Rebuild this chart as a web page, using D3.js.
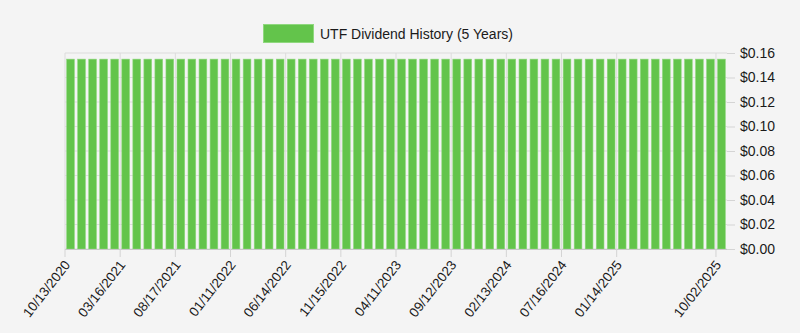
<!DOCTYPE html>
<html>
<head>
<meta charset="utf-8">
<script src="https://cdn.jsdelivr.net/npm/d3@7"></script>
<style>
  html, body { margin: 0; padding: 0; background: #f4f4f4; }
  svg { display: block; font-family: "Liberation Sans", Arial, Helvetica, sans-serif; }
</style>
</head>
<body>
<svg id="chart" width="800" height="333"></svg>
<script>
const exDates = [
  "10/13/2020","11/10/2020","12/08/2020",
  "01/12/2021","02/09/2021","03/16/2021","04/13/2021","05/11/2021","06/15/2021","07/13/2021","08/17/2021","09/14/2021","10/12/2021","11/09/2021","12/07/2021",
  "01/11/2022","02/08/2022","03/15/2022","04/12/2022","05/10/2022","06/14/2022","07/12/2022","08/16/2022","09/13/2022","10/11/2022","11/15/2022","12/06/2022",
  "01/10/2023","02/14/2023","03/14/2023","04/11/2023","05/16/2023","06/13/2023","07/11/2023","08/15/2023","09/12/2023","10/10/2023","11/14/2023","12/12/2023",
  "01/09/2024","02/13/2024","03/12/2024","04/09/2024","05/14/2024","06/11/2024","07/16/2024","08/13/2024","09/10/2024","10/15/2024","11/12/2024",
  "01/14/2025","02/11/2025","03/11/2025","04/15/2025","05/13/2025","06/10/2025","07/15/2025","08/12/2025","09/16/2025","10/02/2025"
];
const dividends = [
  0.155,0.155,0.155,
  0.155,0.155,0.155,0.155,0.155,0.155,0.155,0.155,0.155,0.155,0.155,0.155,
  0.155,0.155,0.155,0.155,0.155,0.155,0.155,0.155,0.155,0.155,0.155,0.155,
  0.155,0.155,0.155,0.155,0.155,0.155,0.155,0.155,0.155,0.155,0.155,0.155,
  0.155,0.155,0.155,0.155,0.155,0.155,0.155,0.155,0.155,0.155,0.155,
  0.155,0.155,0.155,0.155,0.155,0.155,0.155,0.155,0.155,0.155
];
const xTickLabels = ["10/13/2020","03/16/2021","08/17/2021","01/11/2022","06/14/2022","11/15/2022","04/11/2023","09/12/2023","02/13/2024","07/16/2024","01/14/2025","10/02/2025"];
const yTicks = [0,0.02,0.04,0.06,0.08,0.10,0.12,0.14,0.16];
const seriesName = "UTF Dividend History (5 Years)";

const data = exDates.map((d, i) => ({ date: d, value: dividends[i] }));

const svg = d3.select("#chart");
const mLeft = 65, mRight = 727, mTop = 53, mBottom = 249;

const x = d3.scaleBand().domain(exDates).range([mLeft, mRight]).paddingInner(0.3).paddingOuter(0.15);
const y = d3.scaleLinear().domain([0, 0.16]).range([mBottom, mTop]);
const gap = (x.step() - x.bandwidth()) / 2;
const boundary = d => x(d) - gap;

// horizontal grid
svg.append("g").selectAll("line").data(yTicks).join("line")
  .attr("x1", mLeft).attr("x2", mRight)
  .attr("y1", d => y(d)).attr("y2", d => y(d))
  .attr("stroke", "#dcdcdc").attr("stroke-width", 1);

// vertical grid
svg.append("g").selectAll("line").data(xTickLabels).join("line")
  .attr("x1", d => boundary(d)).attr("x2", d => boundary(d))
  .attr("y1", mTop).attr("y2", mBottom)
  .attr("stroke", "#dcdcdc").attr("stroke-width", 1);

// bars
svg.append("g").selectAll("rect").data(data).join("rect")
  .attr("x", d => x(d.date))
  .attr("y", d => y(d.value))
  .attr("width", x.bandwidth())
  .attr("height", d => y(0) - y(d.value))
  .attr("fill", "#63c44b")
  .attr("stroke", "#8fd87e")
  .attr("stroke-width", 0.6);

// right y axis
const yAxis = d3.axisRight(y).tickValues(yTicks).tickSize(8).tickPadding(5)
  .tickFormat(d => "$" + d3.format(".2f")(d));
const gy = svg.append("g").attr("transform", `translate(${mRight},0)`).call(yAxis);
gy.select(".domain").remove();
gy.selectAll(".tick line").attr("stroke", "#d4d4d4");
gy.selectAll(".tick text").attr("fill", "#1a1a1a").style("font-size", "14px")
  .style("font-family", "'Liberation Sans', Arial, sans-serif");

// bottom axis line
svg.append("line").attr("x1", mLeft).attr("x2", mRight).attr("y1", mBottom + 0.5).attr("y2", mBottom + 0.5)
  .attr("stroke", "#c8c8c8");

// x ticks and labels
const gx = svg.append("g");
gx.selectAll("line").data(xTickLabels).join("line")
  .attr("x1", d => boundary(d)).attr("x2", d => boundary(d))
  .attr("y1", mBottom).attr("y2", mBottom + 8)
  .attr("stroke", "#d4d4d4");
gx.selectAll("text").data(xTickLabels).join("text")
  .attr("transform", d => `translate(${boundary(d) + 6},${mBottom + 16}) rotate(-52)`)
  .attr("text-anchor", "end")
  .attr("fill", "#1a1a1a")
  .style("font-size", "13.5px")
  .text(d => d);

// legend
svg.append("rect").attr("x", 263.5).attr("y", 24.5).attr("width", 50).attr("height", 18)
  .attr("fill", "#63c44b").attr("stroke", "#8fd87e").attr("stroke-width", 1);
svg.append("text").attr("x", 320).attr("y", 38.5).attr("fill", "#1a1a1a")
  .style("font-size", "14px").text(seriesName);
</script>
</body>
</html>
